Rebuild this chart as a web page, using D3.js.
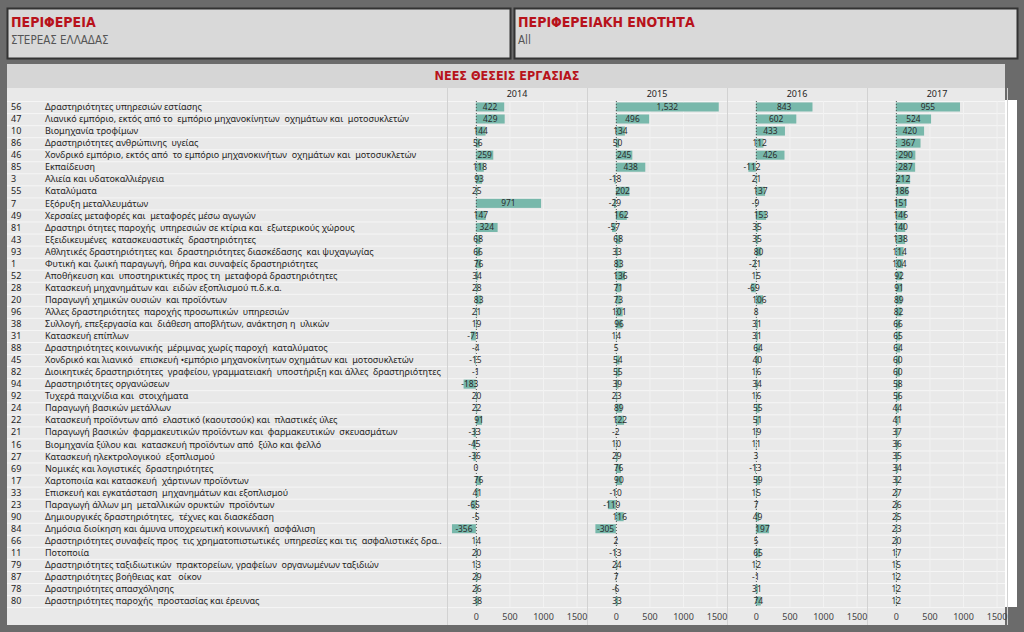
<!DOCTYPE html>
<html>
<head>
<meta charset="utf-8">
<script src="https://cdn.jsdelivr.net/npm/d3@7"></script>
<style>
  body { margin: 0; background: #6b6b6b; }
  svg { display: block; }
  text { white-space: pre; }
</style>
</head>
<body>
<div id="container"></div>
<script>
// data
var codes = ["56","47","10","86","46","85","3","55","7","49","81","43","93","1","52","28","20","96","38","31","88","45","82","94","92","24","22","21","16","27","69","17","33","23","90","84","66","11","79","87","78","80"];

var labels = [
  "Δραστηριότητες υπηρεσιών εστίασης",
  "Λιανικό εμπόριο, εκτός από το  εμπόριο μηχανοκίνητων  οχημάτων και  μοτοσυκλετών",
  "Βιομηχανία τροφίμων",
  "Δραστηριότητες ανθρώπινης  υγείας",
  "Χονδρικό εμπόριο, εκτός από  το εμπόριο μηχανοκινήτων  οχημάτων και  μοτοσυκλετών",
  "Εκπαίδευση",
  "Αλιεία και υδατοκαλλιέργεια",
  "Καταλύματα",
  "Εξόρυξη μεταλλευμάτων",
  "Χερσαίες μεταφορές και  μεταφορές μέσω αγωγών",
  "Δραστηρι ότητες παροχής  υπηρεσιών σε κτίρια και  εξωτερικούς χώρους",
  "Εξειδικευμένες  κατασκευαστικές  δραστηριότητες",
  "Αθλητικές δραστηριότητες και  δραστηριότητες διασκέδασης  και ψυχαγωγίας",
  "Φυτική και ζωική παραγωγή, θήρα και συναφείς δραστηριότητες",
  "Αποθήκευση και  υποστηρικτικές προς τη  μεταφορά δραστηριότητες",
  "Κατασκευή μηχανημάτων και  ειδών εξοπλισμού π.δ.κ.α.",
  "Παραγωγή χημικών ουσιών  και προϊόντων",
  "Άλλες δραστηριότητες  παροχής προσωπικών  υπηρεσιών",
  "Συλλογή, επεξεργασία και  διάθεση αποβλήτων, ανάκτηση η  υλικών",
  "Κατασκευή επίπλων",
  "Δραστηριότητες κοινωνικής  μέριμνας χωρίς παροχή  καταλύματος",
  "Χονδρικό και λιανικό   επισκευή •εμπόριο μηχανοκίνητων οχημάτων και  μοτοσυκλετών",
  "Διοικητικές δραστηριότητες  γραφείου, γραμματειακή  υποστήριξη και άλλες  δραστηριότητες",
  "Δραστηριότητες οργανώσεων",
  "Τυχερά παιχνίδια και  στοιχήματα",
  "Παραγωγή βασικών μετάλλων",
  "Κατασκευή προϊόντων από  ελαστικό (καουτσούκ) και  πλαστικές ύλες",
  "Παραγωγή βασικών  φαρμακευτικών προϊόντων και  φαρμακευτικών  σκευασμάτων",
  "Βιομηχανία ξύλου και  κατασκευή προϊόντων από  ξύλο και φελλό",
  "Κατασκευή ηλεκτρολογικού  εξοπλισμού",
  "Νομικές και λογιστικές  δραστηριότητες",
  "Χαρτοποιία και κατασκευή  χάρτινων προϊόντων",
  "Επισκευή και εγκατάσταση  μηχανημάτων και εξοπλισμού",
  "Παραγωγή άλλων μη  μεταλλικών ορυκτών  προϊόντων",
  "Δημιουργικές δραστηριότητες,  τέχνες και διασκέδαση",
  "Δημόσια διοίκηση και άμυνα υποχρεωτική κοινωνική  ασφάλιση",
  "Δραστηριότητες συναφείς προς  τις χρηματοπιστωτικές  υπηρεσίες και τις  ασφαλιστικές δρα..",
  "Ποτοποιία",
  "Δραστηριότητες ταξιδιωτικών  πρακτορείων, γραφείων  οργανωμένων ταξιδιών",
  "Δραστηριότητες βοήθειας κατ   οίκον",
  "Δραστηριότητες απασχόλησης",
  "Δραστηριότητες παροχής  προστασίας και έρευνας"
];

var years = ["2014", "2015", "2016", "2017"];

var v2014 = [422,429,144,56,259,118,93,25,971,147,324,68,66,76,34,28,83,21,19,-71,-4,-15,-1,-183,20,22,91,-33,-45,-36,0,76,41,-65,-5,-356,14,20,13,29,26,38];
var v2015 = [1532,496,134,50,245,438,-18,202,-29,162,-57,68,33,83,136,71,73,101,96,14,5,54,55,39,23,89,122,-2,10,29,76,90,-10,-119,116,-305,2,-13,24,7,-6,33];
var v2016 = [843,602,433,112,426,-112,21,137,-9,153,35,35,80,-21,15,-69,106,8,31,31,64,40,16,34,16,55,51,19,11,3,-13,59,15,7,49,197,5,65,12,-1,31,74];
var v2017 = [955,524,420,367,290,287,212,186,151,146,140,138,114,104,92,91,89,82,66,65,64,60,60,58,56,44,41,37,36,35,34,32,27,26,25,23,20,17,15,12,12,12];

var axisTicks = [0, 500, 1000, 1500];

var series = [v2014, v2015, v2016, v2017];

var w = 1024;
var h = 632;
var panelW = 140;
var panelX0 = 447;

// plain hyphen for negatives, comma for thousands
var locale = d3.formatLocale({ decimal: ".", thousands: ",", grouping: [3], currency: ["", ""], minus: "-" });
var fmt = locale.format(",");
var tickFmt = locale.format("d");

var svg = d3
  .select("#container")
  .append("svg")
  .attr("width", w)
  .attr("height", h);

svg.append("rect").attr("width", w).attr("height", h).attr("fill", "#6b6b6b");

var narrow = "'Liberation Sans Narrow', 'DejaVu Sans Condensed', sans-serif";
var labelFont = "'Noto Sans', 'Open Sans', sans-serif";

// top cards
var cards = [
  { x: 7, title: "ΠΕΡΙΦΕΡΕΙΑ", value: "ΣΤΕΡΕΑΣ ΕΛΛΑΔΑΣ" },
  { x: 514, title: "ΠΕΡΙΦΕΡΕΙΑΚΗ ΕΝΟΤΗΤΑ", value: "All" }
];
cards.forEach(function (c) {
  svg
    .append("rect")
    .attr("x", c.x + 0.5)
    .attr("y", 8.5)
    .attr("width", 503)
    .attr("height", 50)
    .attr("fill", "#d9d9d9")
    .attr("stroke", "#333")
    .attr("stroke-width", 2);
  svg
    .append("text")
    .attr("x", c.x + 4)
    .attr("y", 27)
    .text(c.title)
    .style("font-family", narrow)
    .style("font-weight", "bold")
    .style("font-size", "14px")
    .style("fill", "#b8121b");
  svg
    .append("text")
    .attr("x", c.x + 4)
    .attr("y", 44)
    .text(c.value)
    .style("font-family", narrow)
    .style("font-size", "11.5px")
    .style("fill", "#555");
});

// main panel
svg.append("rect").attr("x", 7).attr("y", 64).attr("width", 998).attr("height", 561).attr("fill", "#e9e9e9");
svg.append("rect").attr("x", 7).attr("y", 64).attr("width", 998).attr("height", 24).attr("fill", "#d6d6d6");
svg.append("rect").attr("x", 1005).attr("y", 100).attr("width", 12).attr("height", 507).attr("fill", "#ffffff");

svg
  .append("text")
  .attr("x", 507)
  .attr("y", 80)
  .attr("text-anchor", "middle")
  .text("ΝΕΕΣ ΘΕΣΕΙΣ ΕΡΓΑΣΙΑΣ")
  .style("font-family", narrow)
  .style("font-weight", "bold")
  .style("font-size", "12.5px")
  .style("fill", "#b8121b");

var yScale = d3.scaleBand().domain(d3.range(codes.length)).range([101, 607]).paddingInner(0.25).paddingOuter(0.12);
var step = yScale.step();

// row separators
svg
  .append("g")
  .selectAll("line")
  .data(d3.range(codes.length + 1))
  .enter()
  .append("line")
  .attr("x1", 7)
  .attr("x2", 1005)
  .attr("y1", (d) => 101 + d * step + 0.5)
  .attr("y2", (d) => 101 + d * step + 0.5)
  .attr("stroke", "#f6f6f6")
  .attr("stroke-width", 1);

// panel separators
svg
  .append("g")
  .selectAll("line")
  .data([0, 1, 2, 3, 4])
  .enter()
  .append("line")
  .attr("x1", (d) => panelX0 + d * panelW + 0.5)
  .attr("x2", (d) => panelX0 + d * panelW + 0.5)
  .attr("y1", 88)
  .attr("y2", 625)
  .attr("stroke", "#d2d2d2");

// codes and names
var rows = svg.append("g");
rows
  .selectAll("text.code")
  .data(codes)
  .enter()
  .append("text")
  .attr("class", "code")
  .attr("x", 11)
  .attr("y", (d, i) => yScale(i) + yScale.bandwidth() / 2)
  .attr("dy", "0.35em")
  .text((d) => d)
  .style("font-family", labelFont)
  .style("font-size", "9px")
  .style("fill", "#252423");
rows
  .selectAll("text.name")
  .data(labels)
  .enter()
  .append("text")
  .attr("class", "name")
  .attr("x", 45)
  .attr("y", (d, i) => yScale(i) + yScale.bandwidth() / 2)
  .attr("dy", "0.35em")
  .text((d) => d)
  .style("font-family", labelFont)
  .style("font-size", "9px")
  .style("fill", "#252423");

// one small bar chart per year
years.forEach(function (yr, k) {
  var vals = series[k];
  var x = d3.scaleLinear().domain([-430, 1655]).range([0, panelW]);
  var g = svg.append("g").attr("transform", "translate(" + (panelX0 + k * panelW) + ",0)");

  g.append("text")
    .attr("x", panelW / 2)
    .attr("y", 97)
    .attr("text-anchor", "middle")
    .text(yr)
    .style("font-family", labelFont)
    .style("font-size", "9px")
    .style("fill", "#252423");

  // faint gridlines
  g.selectAll("line.grid")
    .data(axisTicks.slice(1))
    .enter()
    .append("line")
    .attr("class", "grid")
    .attr("x1", (d) => x(d) + 0.5)
    .attr("x2", (d) => x(d) + 0.5)
    .attr("y1", 101)
    .attr("y2", 607)
    .attr("stroke", "#f2f2f2");

  g.selectAll("rect.bar")
    .data(vals)
    .enter()
    .append("rect")
    .attr("class", "bar")
    .attr("x", (d) => x(Math.min(0, d)))
    .attr("y", (d, i) => yScale(i))
    .attr("width", (d) => Math.abs(x(d) - x(0)))
    .attr("height", yScale.bandwidth())
    .attr("fill", "#78b8ab");

  g.append("line")
    .attr("x1", x(0) + 0.5)
    .attr("x2", x(0) + 0.5)
    .attr("y1", 101)
    .attr("y2", 607)
    .attr("stroke", "#555")
    .attr("stroke-dasharray", "1,2");

  g.selectAll("text.val")
    .data(vals)
    .enter()
    .append("text")
    .attr("class", "val")
    .attr("x", (d) => (x(d) + x(0)) / 2)
    .attr("y", (d, i) => yScale(i) + yScale.bandwidth() / 2)
    .attr("dy", "0.35em")
    .attr("text-anchor", "middle")
    .text((d) => fmt(d))
    .style("font-family", labelFont)
    .style("font-size", "8.4px")
    .style("fill", "#2b2b2b");

  var axis = d3.axisBottom(x).tickValues(axisTicks).tickFormat(tickFmt).tickSize(0).tickPadding(5);
  var ag = g.append("g").attr("transform", "translate(0,609)").call(axis);
  ag.select(".domain").remove();
  ag.selectAll("text")
    .style("font-family", labelFont)
    .style("font-size", "9px")
    .style("fill", "#444");
});
</script>
</body>
</html>
